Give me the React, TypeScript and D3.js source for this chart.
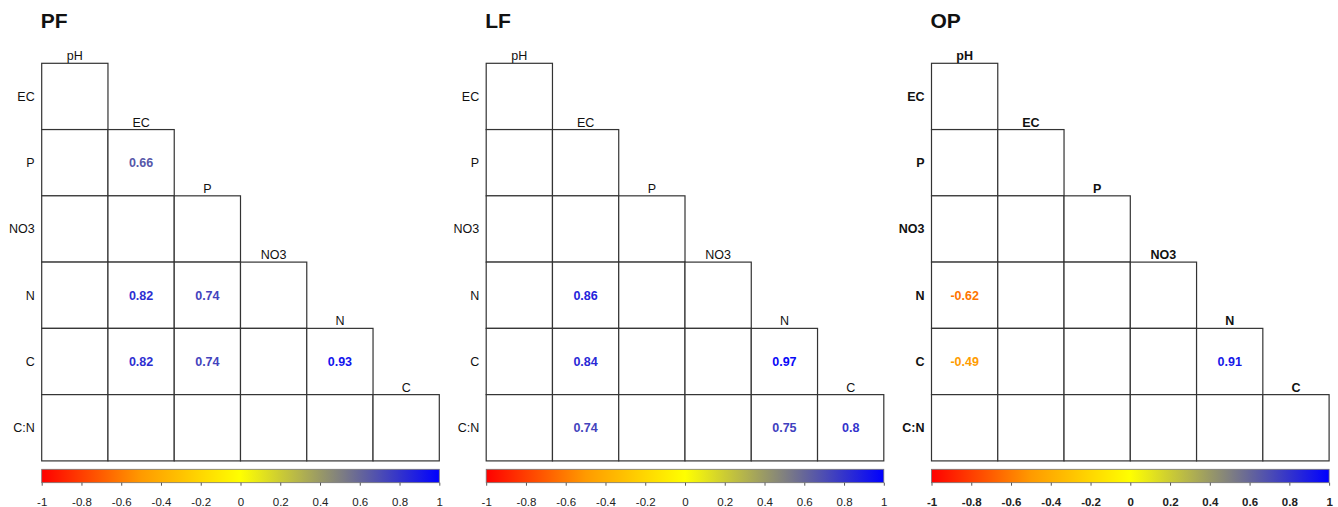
import React, { useRef, useEffect } from "react";
import * as d3 from "d3";

const variables = ["pH", "EC", "P", "NO3", "N", "C", "C:N"];
const panelNames = ["PF", "LF", "OP"];
const colorTicks = [-1, -0.8, -0.6, -0.4, -0.2, 0, 0.2, 0.4, 0.6, 0.8, 1];

// significant correlations only: [row variable, column variable, r]
const pfValues: [string, string, number][] = [
  ["P", "EC", 0.66],
  ["N", "EC", 0.82],
  ["N", "P", 0.74],
  ["C", "EC", 0.82],
  ["C", "P", 0.74],
  ["C", "N", 0.93],
];
const lfValues: [string, string, number][] = [
  ["N", "EC", 0.86],
  ["C", "EC", 0.84],
  ["C", "N", 0.97],
  ["C:N", "EC", 0.74],
  ["C:N", "N", 0.75],
  ["C:N", "C", 0.8],
];
const opValues: [string, string, number][] = [
  ["N", "pH", -0.62],
  ["C", "pH", -0.49],
  ["C", "N", 0.91],
];

const panelData = [pfValues, lfValues, opValues];
const panelBold = [false, false, true];

export default function App() {
  const svgRef = useRef<SVGSVGElement>(null);

  useEffect(() => {
    const svg = d3.select(svgRef.current);
    svg.selectAll("*").remove();

    const width = 1338;
    const height = 507;
    svg.attr("width", width).attr("height", height);

    const color = d3
      .scaleLinear<string>()
      .domain([-1, -0.5, 0, 0.5, 1])
      .range(["#ff0000", "#ff9a00", "#ffff00", "#808080", "#0000ff"]);

    const rows = variables.slice(1);
    const cols = variables.slice(0, 6);

    // gradient for colour bar
    const grad = svg
      .append("defs")
      .append("linearGradient")
      .attr("id", "cbar")
      .attr("x1", "0%")
      .attr("x2", "100%");
    d3.range(0, 1.0001, 0.05).forEach((t) => {
      grad
        .append("stop")
        .attr("offset", `${t * 100}%`)
        .attr("stop-color", color(-1 + 2 * t));
    });

    const offsets = [41.7, 486.2, 931.5];
    const gridW = 397.6;
    const top = 63.3;

    panelNames.forEach((name, pi) => {
      const left = offsets[pi];
      const bold = panelBold[pi];
      const g = svg.append("g").attr("font-family", "Liberation Sans, Arial, sans-serif");

      const x = d3.scaleBand().domain(cols).range([left, left + gridW]);
      const y = d3.scaleBand().domain(rows).range([top, top + gridW]);
      const cw = x.bandwidth();

      g.append("text")
        .attr("x", left - 1)
        .attr("y", 28)
        .attr("font-size", 21)
        .attr("font-weight", "bold")
        .attr("fill", "#111")
        .text(name);

      // lower triangle cells
      const cells: { r: string; c: string }[] = [];
      rows.forEach((r, ri) => {
        cols.forEach((c, ci) => {
          if (ci <= ri) cells.push({ r, c });
        });
      });

      g.selectAll("rect.cell")
        .data(cells)
        .join("rect")
        .attr("x", (d) => x(d.c)!)
        .attr("y", (d) => y(d.r)!)
        .attr("width", cw)
        .attr("height", y.bandwidth())
        .attr("fill", "white")
        .attr("stroke", "#333")
        .attr("stroke-width", 1.2);

      // column labels above each diagonal cell
      g.selectAll("text.col")
        .data(cols)
        .join("text")
        .attr("x", (d) => x(d)! + cw / 2)
        .attr("y", (d, i) => y(rows[i])! - 3)
        .attr("text-anchor", "middle")
        .attr("font-size", 12.5)
        .attr("font-weight", bold ? "bold" : "normal")
        .attr("fill", "#111")
        .text((d) => d);

      // row labels
      g.selectAll("text.row")
        .data(rows)
        .join("text")
        .attr("x", left - 7)
        .attr("y", (d) => y(d)! + y.bandwidth() / 2)
        .attr("dy", "0.35em")
        .attr("text-anchor", "end")
        .attr("font-size", 12.5)
        .attr("font-weight", bold ? "bold" : "normal")
        .attr("fill", "#111")
        .text((d) => d);

      // correlation values
      g.selectAll("text.val")
        .data(panelData[pi])
        .join("text")
        .attr("x", (d) => x(d[1])! + cw / 2)
        .attr("y", (d) => y(d[0])! + y.bandwidth() / 2)
        .attr("dy", "0.35em")
        .attr("text-anchor", "middle")
        .attr("font-size", 12.5)
        .attr("font-weight", "bold")
        .attr("fill", (d) => color(d[2]))
        .text((d) => String(d[2]));

      // colour bar
      const cx = d3.scaleLinear().domain([-1, 1]).range([left, left + gridW]);
      g.append("rect")
        .attr("x", left)
        .attr("y", 469.3)
        .attr("width", gridW)
        .attr("height", 13.4)
        .attr("fill", "url(#cbar)")
        .attr("stroke", "#777")
        .attr("stroke-width", 0.8);

      const axis = g
        .append("g")
        .attr("transform", "translate(0,482.7)")
        .call(
          d3
            .axisBottom(cx)
            .tickValues(colorTicks)
            .tickSize(3)
            .tickFormat((d) => String(d))
        );
      axis.select(".domain").remove();
      axis.selectAll("line").attr("stroke", "#555");
      axis
        .selectAll("text")
        .attr("font-size", 11.5)
        .attr("font-family", "Liberation Sans, Arial, sans-serif")
        .attr("font-weight", bold ? "bold" : "normal")
        .attr("fill", "#222")
        .attr("y", 15);
    });
  }, []);

  return (
    <div style={{ position: "absolute", left: 0, top: 0 }}>
      <svg ref={svgRef}></svg>
    </div>
  );
}
